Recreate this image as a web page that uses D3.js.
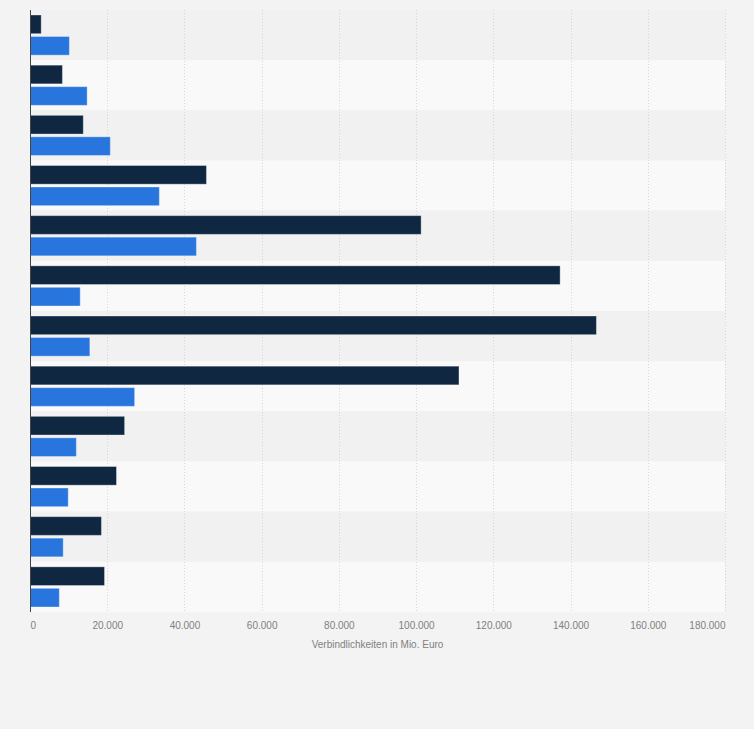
<!DOCTYPE html>
<html>
<head>
<meta charset="utf-8">
<script src="https://cdn.jsdelivr.net/npm/d3@7"></script>
<style>
  html, body { margin: 0; padding: 0; background: #f3f3f3; }
  svg { display: block; font-family: "Liberation Sans", Arial, sans-serif; }
</style>
</head>
<body>
<div id="chart"></div>
<script>
// rows as drawn from top to bottom (no category labels are shown in the picture)
const categories = ["1", "2", "3", "4", "5", "6", "7", "8", "9", "10", "11", "12"]
const seriesNames = ["dark", "blue"]
const darkValues = [2900, 8400, 13800, 45700, 101300, 137300, 146700, 111100, 24500, 22400, 18500, 19300]
const blueValues = [10200, 14800, 20800, 33500, 43100, 13000, 15500, 27100, 12000, 9900, 8600, 7600]
const xTicks = [0, 20000, 40000, 60000, 80000, 100000, 120000, 140000, 160000, 180000]
const xTitle = "Verbindlichkeiten in Mio. Euro"

const colors = { dark: "#0f2741", blue: "#2876dd" }

const width = 754, height = 729
const margin = { top: 10, right: 29, bottom: 117, left: 30 }

const svg = d3.select("#chart").append("svg")
    .attr("width", width)
    .attr("height", height)

svg.append("rect")
    .attr("width", width)
    .attr("height", height)
    .attr("fill", "#f3f3f3")

const x = d3.scaleLinear()
    .domain([0, 180000])
    .range([margin.left, width - margin.right])

const y = d3.scaleBand()
    .domain(categories)
    .range([margin.top, height - margin.bottom])

const ySub = d3.scaleBand()
    .domain(seriesNames)
    .range([5, y.bandwidth() - 5])
    .paddingInner(0.13)

// alternating row bands
svg.append("g").selectAll("rect")
    .data(categories)
    .join("rect")
    .attr("x", x(0))
    .attr("y", d => y(d))
    .attr("width", x(180000) - x(0))
    .attr("height", y.bandwidth())
    .attr("fill", (d, i) => i % 2 ? "#f9f9f9" : "#f1f1f1")

// dotted grid lines
svg.append("g").selectAll("line")
    .data(xTicks.slice(1))
    .join("line")
    .attr("x1", d => Math.round(x(d)) + 0.5)
    .attr("x2", d => Math.round(x(d)) + 0.5)
    .attr("y1", margin.top)
    .attr("y2", height - margin.bottom)
    .attr("stroke", "#d6d6d6")
    .attr("stroke-dasharray", "1,2")

const rows = categories.map((c, i) => ({ cat: c, dark: darkValues[i], blue: blueValues[i] }))

const groups = svg.append("g").selectAll("g")
    .data(rows)
    .join("g")
    .attr("transform", d => `translate(0,${y(d.cat)})`)

groups.selectAll("rect")
    .data(d => seriesNames.map(s => ({ s, v: d[s] })))
    .join("rect")
    .attr("x", x(0))
    .attr("y", d => ySub(d.s))
    .attr("width", d => x(d.v) - x(0))
    .attr("height", ySub.bandwidth())
    .attr("fill", d => colors[d.s])
    .attr("stroke", "rgba(255,255,255,0.35)")
    .attr("stroke-width", 1)

// y axis line
svg.append("line")
    .attr("x1", x(0) + 0.5)
    .attr("x2", x(0) + 0.5)
    .attr("y1", margin.top)
    .attr("y2", height - margin.bottom)
    .attr("stroke", "#444")
    .attr("stroke-width", 1)

// x axis labels
const fmt = d3.formatLocale({ decimal: ",", thousands: ".", grouping: [3], currency: ["", " €"] }).format(",")

const xAxis = svg.append("g")
    .attr("transform", `translate(0,${height - margin.bottom})`)
    .call(d3.axisBottom(x).tickValues(xTicks).tickFormat(fmt).tickSize(0).tickPadding(10))

xAxis.select(".domain").remove()
xAxis.selectAll("text")
    .attr("fill", "#808080")
    .attr("font-size", "10px")
    .attr("font-family", "'Liberation Sans', Arial, sans-serif")
    .attr("text-anchor", (d, i) => i === 0 ? "start" : (i === xTicks.length - 1 ? "end" : "middle"))

svg.append("text")
    .attr("x", (x(0) + x(180000)) / 2)
    .attr("y", 648)
    .attr("text-anchor", "middle")
    .attr("fill", "#808080")
    .attr("font-size", "10px")
    .text(xTitle)
</script>
</body>
</html>
